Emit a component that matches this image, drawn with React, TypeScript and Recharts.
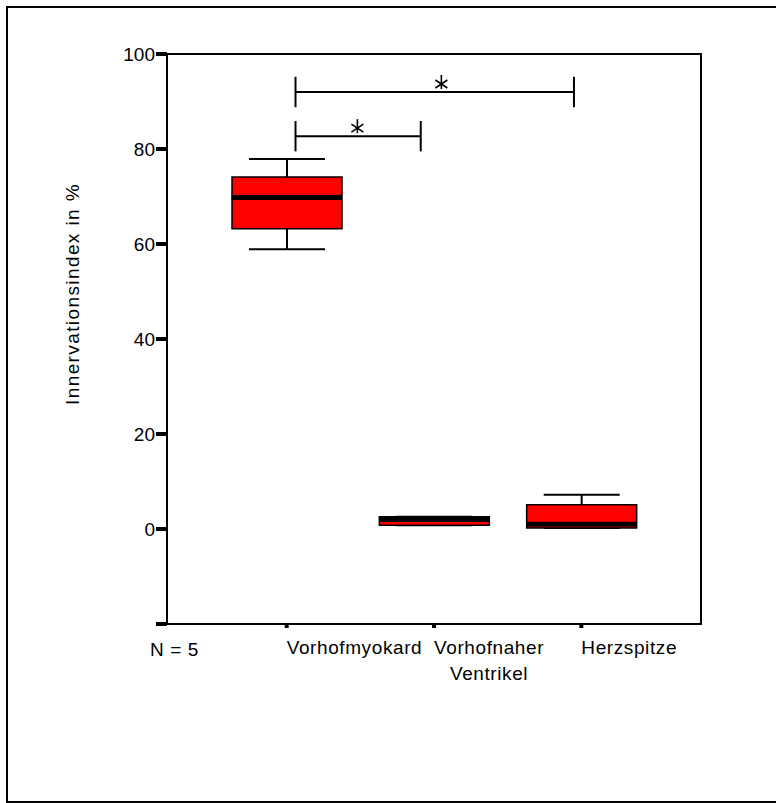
import React from "react";
import {
  ComposedChart,
  Bar,
  Scatter,
  XAxis,
  YAxis,
  ReferenceLine,
  ReferenceDot,
  ReferenceArea,
} from "recharts";

const FONT = "Arial, 'Liberation Sans', Helvetica, sans-serif";
const FONT_SIZE = 19;
const SPACING = 0.6;

// box plot values (Innervationsindex in %)
const categories = ["Vorhofmyokard", "Vorhofnaher\nVentrikel", "Herzspitze"];
const whiskerLow = [58.9, 0.8, 0.2];
const quartile1 = [63.2, 0.8, 0.2];
const medians = [69.8, 2.0, 1.0];
const quartile3 = [74.1, 2.6, 5.1];
const whiskerHigh = [77.9, 2.6, 7.2];
const yTicks = [-20, 0, 20, 40, 60, 80, 100];

// significance brackets, x in category units (1 = first box)
const bracketFrom = [1.06, 1.06];
const bracketTo = [1.91, 2.95];
const bracketLevel = [82.7, 92.0];
const bracketHalf = 3.2;
const starX = [1.48, 2.05];
const starY = [84.6, 93.9];

const data = categories.map((name, i) => ({
  name,
  pos: i + 1,
  whisker: [whiskerLow[i], whiskerHigh[i]],
  box: [quartile1[i], quartile3[i]],
  median: medians[i],
}));

function measure(text: string) {
  const ctx = document.createElement("canvas").getContext("2d");
  if (!ctx) return text.length * FONT_SIZE * 0.5;
  ctx.font = `${FONT_SIZE}px ${FONT}`;
  return ctx.measureText(text).width + SPACING * text.length;
}

function CategoryTick(props: any) {
  const { x, y, payload } = props;
  const lines = String(payload.value).split("\n");
  const blockW = Math.max(...lines.map(measure));
  return (
    <g>
      {lines.map((l, i) => (
        <text
          key={i}
          x={x + blockW / 2}
          y={y + 24 + i * 26}
          textAnchor="middle"
          fontSize={FONT_SIZE}
          fontFamily={FONT}
          letterSpacing={SPACING}
          fill="#000"
        >
          {l}
        </text>
      ))}
    </g>
  );
}

function WhiskerShape(props: any) {
  const { x, y, width, height } = props;
  const cx = x + width / 2;
  return (
    <g stroke="#000" strokeWidth={2}>
      <line x1={cx} x2={cx} y1={y} y2={y + height} />
      <line x1={x} x2={x + width} y1={y} y2={y} />
      <line x1={x} x2={x + width} y1={y + height} y2={y + height} />
    </g>
  );
}

const MedianShape = (p: any) => (
  <rect x={p.cx - 55} y={p.cy - 2.5} width={110} height={5} fill="#000" />
);

const StarShape = (p: any) => {
  const { cx, cy } = p;
  return (
    <g stroke="#000" strokeWidth={1.6}>
      <line x1={cx} x2={cx} y1={cy - 8} y2={cy + 6} />
      <line x1={cx - 6} x2={cx + 6} y1={cy - 3} y2={cy + 5} />
      <line x1={cx - 6} x2={cx + 6} y1={cy + 5} y2={cy - 3} />
    </g>
  );
};

const YLabel = (props: any) => {
  const vb = props.viewBox;
  const cx = vb.x + 25;
  const cy = vb.y + vb.height / 2 - 45;
  return (
    <text
      x={cx}
      y={cy}
      transform={`rotate(-90 ${cx} ${cy})`}
      textAnchor="middle"
      dominantBaseline="central"
      fontSize={FONT_SIZE}
      fontFamily={FONT}
      letterSpacing={1.4}
      fill="#000"
    >
      Innervationsindex in %
    </text>
  );
};

const NLabel = (props: any) => {
  const vb = props.viewBox;
  return (
    <text
      x={vb.x - 17}
      y={vb.y + 32}
      fontSize={FONT_SIZE}
      fontFamily={FONT}
      letterSpacing={SPACING}
      fill="#000"
    >
      N = 5
    </text>
  );
};

export default function App() {
  return (
    <div>
      <div
        style={{
          position: "absolute",
          left: 6,
          top: 6,
          width: 770,
          height: 797,
          boxSizing: "border-box",
          border: "2px solid #000",
          borderRight: "none",
        }}
      />
      <div style={{ position: "absolute", left: 0, top: 0 }}>
        <ComposedChart
          width={776}
          height={803}
          data={data}
          margin={{ top: 54, right: 75, bottom: 119, left: 47 }}
        >
          <XAxis
            xAxisId="c"
            dataKey="name"
            type="category"
            interval={0}
            padding={{ left: 46, right: 46 }}
            height={60}
            axisLine={{ stroke: "#000", strokeWidth: 2 }}
            tickLine={{ stroke: "#000", strokeWidth: 4 }}
            tickSize={4}
            tick={<CategoryTick />}
            label={<NLabel />}
          />
          <XAxis xAxisId="w" dataKey="name" type="category" padding={{ left: 46, right: 46 }} hide />
          <XAxis
            xAxisId="n"
            dataKey="pos"
            type="number"
            domain={[0.5, 3.5]}
            padding={{ left: 46, right: 46 }}
            allowDataOverflow
            hide
          />
          <XAxis
            xAxisId="f"
            dataKey="pos"
            type="number"
            domain={[0, 1]}
            allowDataOverflow
            hide
          />
          <YAxis
            type="number"
            domain={[-20, 100]}
            ticks={yTicks}
            width={120}
            tickSize={11}
            tickMargin={1}
            axisLine={{ stroke: "#000", strokeWidth: 2 }}
            tickLine={{ stroke: "#000", strokeWidth: 4 }}
            tick={{ fill: "#000", fontSize: FONT_SIZE, fontFamily: FONT }}
            tickFormatter={(v: number) => (v === -20 ? "" : String(v))}
            label={<YLabel />}
          />

          <ReferenceArea
            xAxisId="f"
            x1={0}
            x2={1}
            y1={-20}
            y2={100}
            fill="none"
            fillOpacity={0}
            stroke="#000"
            strokeWidth={2}
            ifOverflow="visible"
          />

          <Bar
            xAxisId="w"
            dataKey="whisker"
            barSize={76}
            shape={<WhiskerShape />}
            isAnimationActive={false}
          />
          <Bar
            xAxisId="c"
            dataKey="box"
            barSize={110}
            fill="#ff0000"
            stroke="#000"
            strokeWidth={1.5}
            isAnimationActive={false}
          />
          <Scatter
            xAxisId="c"
            dataKey="median"
            shape={<MedianShape />}
            isAnimationActive={false}
          />

          {bracketFrom.map((from, i) => (
            <ReferenceLine
              key={`h${i}`}
              xAxisId="n"
              segment={[
                { x: from, y: bracketLevel[i] },
                { x: bracketTo[i], y: bracketLevel[i] },
              ]}
              stroke="#000"
              strokeWidth={2}
            />
          ))}
          {bracketFrom.map((from, i) => (
            <ReferenceLine
              key={`l${i}`}
              xAxisId="n"
              segment={[
                { x: from, y: bracketLevel[i] - bracketHalf },
                { x: from, y: bracketLevel[i] + bracketHalf },
              ]}
              stroke="#000"
              strokeWidth={2}
            />
          ))}
          {bracketTo.map((to, i) => (
            <ReferenceLine
              key={`r${i}`}
              xAxisId="n"
              segment={[
                { x: to, y: bracketLevel[i] - bracketHalf },
                { x: to, y: bracketLevel[i] + bracketHalf },
              ]}
              stroke="#000"
              strokeWidth={2}
            />
          ))}
          {starX.map((sx, i) => (
            <ReferenceDot key={`s${i}`} xAxisId="n" x={sx} y={starY[i]} r={7} shape={<StarShape />} />
          ))}
        </ComposedChart>
      </div>
    </div>
  );
}
